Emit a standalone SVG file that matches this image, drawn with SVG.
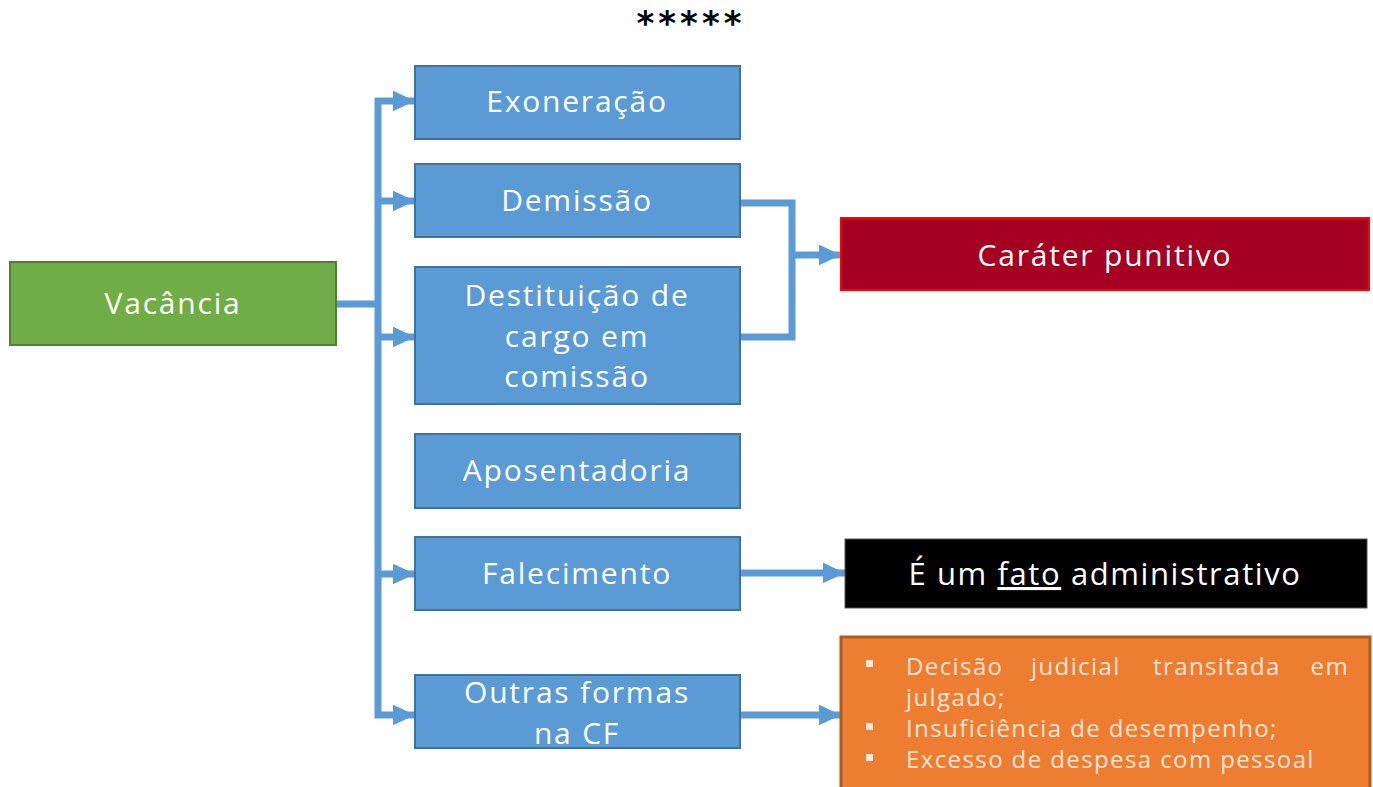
<svg xmlns="http://www.w3.org/2000/svg" width="1373" height="787" viewBox="0 0 1373 787">
<style>
.box{fill:#5B9BD5;stroke:#41719C;stroke-width:2}
.lbl{font-family:"Open Sans","Liberation Sans",sans-serif;font-size:30px;fill:#fff;text-anchor:middle;letter-spacing:1.8px}
.con{fill:none;stroke:#5B9BD5;stroke-width:7}
.orng{font-family:"Open Sans","Liberation Sans",sans-serif;font-size:24px;fill:#FCE4D6;letter-spacing:1.4px}
</style>
<defs>
<marker id="ah" markerWidth="3.2" markerHeight="3" refX="3.2" refY="1.5" orient="auto" markerUnits="strokeWidth">
<path d="M0,0 L3.2,1.5 L0,3 Z" fill="#5B9BD5"/>
</marker>
</defs>
<rect width="1373" height="787" fill="#fff"/>
<text x="691" y="35" font-family="'DejaVu Sans',sans-serif" font-size="34" font-weight="bold" text-anchor="middle" letter-spacing="4">*****</text>
<g id="connectors">
<path class="con" d="M336,304 H378"/>
<path class="con" d="M378,98 V718"/>
<path class="con" d="M375,101 H415" marker-end="url(#ah)"/>
<path class="con" d="M375,201 H415" marker-end="url(#ah)"/>
<path class="con" d="M375,337 H415" marker-end="url(#ah)"/>
<path class="con" d="M375,574 H415" marker-end="url(#ah)"/>
<path class="con" d="M375,715 H415" marker-end="url(#ah)"/>
<path class="con" d="M740,203 H792 V337 H740"/>
<path class="con" d="M792,255 H841" marker-end="url(#ah)"/>
<path class="con" d="M740,573 H845" marker-end="url(#ah)"/>
<path class="con" d="M740,715 H841" marker-end="url(#ah)"/>
</g>
<g id="vacancia">
<rect x="10" y="262" width="326" height="83" fill="#70AD47" stroke="#507E32" stroke-width="2"/>
<text class="lbl" x="173" y="314">Vacância</text>
</g>
<g id="exoneracao">
<rect class="box" x="415" y="66" width="325" height="73"/>
<text class="lbl" x="577" y="112">Exoneração</text>
</g>
<g id="demissao">
<rect class="box" x="415" y="164" width="325" height="73"/>
<text class="lbl" x="577" y="211">Demissão</text>
</g>
<g id="destituicao">
<rect class="box" x="415" y="267" width="325" height="137"/>
<text class="lbl" x="577" y="306">Destituição de</text>
<text class="lbl" x="577" y="347">cargo em</text>
<text class="lbl" x="577" y="387">comissão</text>
</g>
<g id="aposentadoria">
<rect class="box" x="415" y="434" width="325" height="74"/>
<text class="lbl" x="577" y="481">Aposentadoria</text>
</g>
<g id="falecimento">
<rect class="box" x="415" y="537" width="325" height="73"/>
<text class="lbl" x="577" y="584">Falecimento</text>
</g>
<g id="outras">
<rect class="box" x="415" y="675" width="325" height="73"/>
<text class="lbl" x="577" y="703">Outras formas</text>
<text class="lbl" x="577" y="744">na CF</text>
</g>
<g id="carater">
<rect x="841" y="218" width="528" height="72" fill="#A50021" stroke="#FF0000" stroke-width="2"/>
<text class="lbl" x="1105" y="266">Caráter punitivo</text>
</g>
<g id="fato">
<rect x="845" y="539" width="522" height="69" fill="#000" stroke="#555" stroke-width="1"/>
<text class="lbl" x="1105" y="585" style="font-size:31px;letter-spacing:1.6px">É um <tspan text-decoration="underline">fato</tspan> administrativo</text>
</g>
<g id="formas">
<rect x="841" y="637" width="529" height="152" fill="#ED7D31" stroke="#AE5A21" stroke-width="3"/>
<rect x="866" y="660" width="7" height="7" fill="#FCE4D6"/>
<rect x="866" y="723" width="7" height="7" fill="#FCE4D6"/>
<rect x="866" y="754" width="7" height="7" fill="#FCE4D6"/>
<text class="orng" x="906" y="675">Decisão</text>
<text class="orng" x="1031" y="675">judicial</text>
<text class="orng" x="1153" y="675">transitada</text>
<text class="orng" x="1349" y="675" text-anchor="end">em</text>
<text class="orng" x="906" y="706">julgado;</text>
<text class="orng" x="906" y="737">Insuficiência de desempenho;</text>
<text class="orng" x="906" y="768">Excesso de despesa com pessoal</text>
</g>
</svg>
